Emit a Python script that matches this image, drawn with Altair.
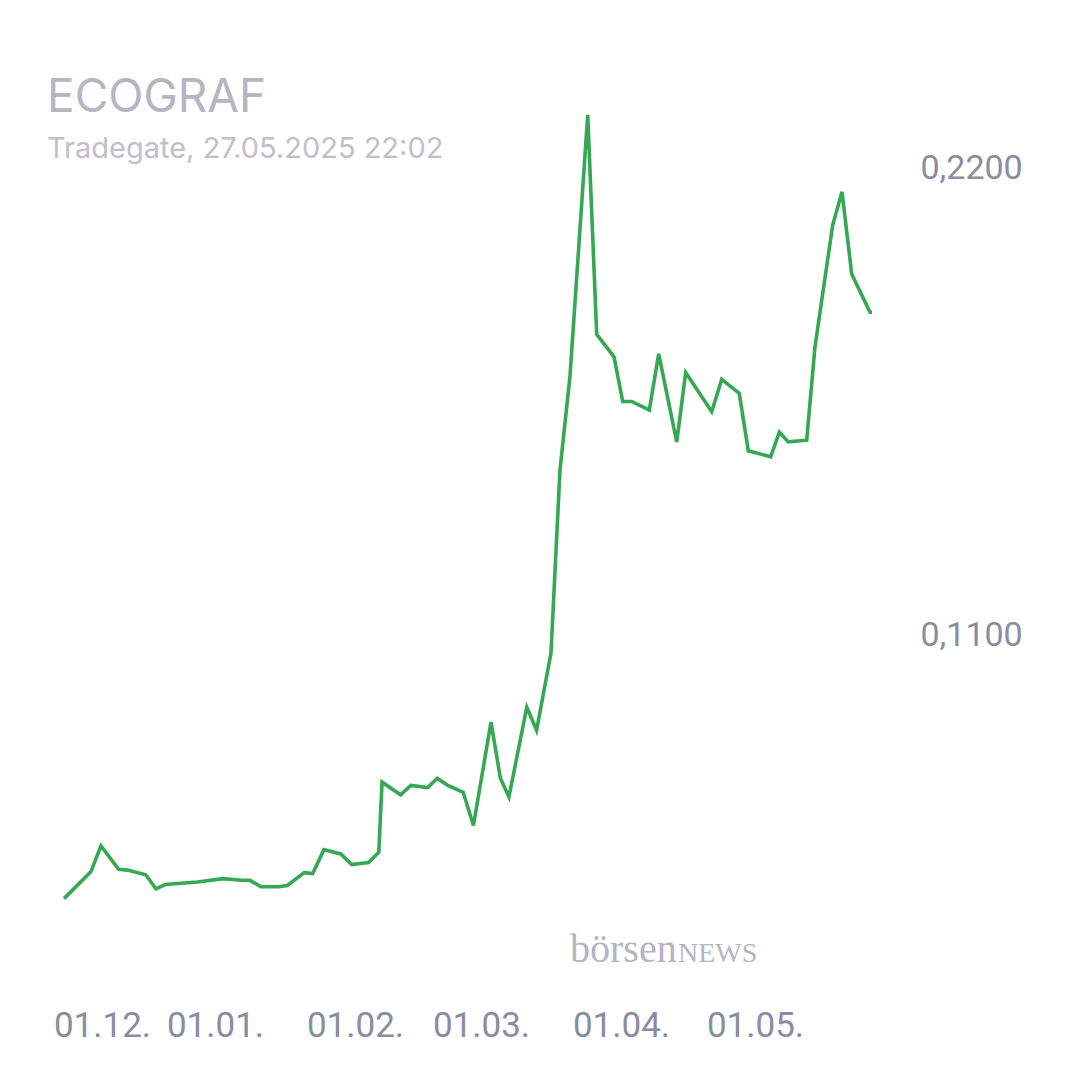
import altair as alt
import pandas as pd

# trading-day index (x) and price in EUR (y)
t_vals = [0.0, 4.15, 5.72, 8.45, 9.81, 12.65, 14.22, 15.67, 20.65, 24.58,
          27.47, 28.77, 30.46, 33.23, 34.55, 37.16, 38.48, 40.21, 42.82, 44.51,
          47.12, 48.70, 49.20, 52.07, 53.65, 56.27, 57.74, 59.30, 61.76, 63.34,
          66.06, 67.51, 68.83, 71.60, 73.11, 75.34, 76.73, 78.28, 81.02, 82.41,
          85.09, 86.43, 87.82, 90.55, 92.00, 94.79, 96.18, 100.2, 101.75, 104.47,
          105.86, 109.33, 110.66, 112.05, 114.90, 116.18, 118.92, 120.36, 121.86, 124.69,
          125.0]
prices = [0.0482, 0.0545, 0.0606, 0.0551, 0.0549, 0.0538, 0.0505, 0.0515, 0.0521, 0.0529,
          0.0525, 0.0525, 0.0510, 0.0510, 0.0513, 0.0543, 0.0541, 0.0597, 0.0587, 0.0562,
          0.0567, 0.0591, 0.0756, 0.0726, 0.0748, 0.0743, 0.0765, 0.0749, 0.0732, 0.0654,
          0.0897, 0.0765, 0.0721, 0.0932, 0.0878, 0.1060, 0.1490, 0.1711, 0.2325, 0.1809,
          0.1756, 0.1651, 0.1651, 0.1631, 0.1763, 0.1556, 0.1719, 0.1627, 0.1703, 0.1670,
          0.1535, 0.1521, 0.1579, 0.1556, 0.1560, 0.1780, 0.2066, 0.2144, 0.1951, 0.1861,
          0.1861]

tick_vals = [5.88, 23.36, 45.02, 64.51, 86.17, 106.9]
tick_labels = ["01.12.", "01.01.", "01.02.", "01.03.", "01.04.", "01.05."]
y_ticks = [0.11, 0.22]

title_text = "ECOGRAF"
subtitle_text = "Tradegate, 27.05.2025 22:02"
wm_a = "börsen"
wm_b = "NEWS"

df = pd.DataFrame({"t": t_vals, "price": prices})

label_expr = ("[" + ",".join(f"'{l}'" for l in tick_labels) + "][indexof(["
              + ",".join(str(v) for v in tick_vals) + "], datum.value)]")

AXIS_COLOR = "#8a8ca0"

line = alt.Chart(df).mark_line(color="#34a853", strokeWidth=3.6).encode(
    x=alt.X("t:Q",
            scale=alt.Scale(domain=[0, 125], nice=False, zero=False),
            axis=alt.Axis(values=tick_vals, labelExpr=label_expr, title=None,
                          grid=False, domain=False, ticks=False,
                          labelFont="Roboto", labelFontSize=35,
                          labelColor=AXIS_COLOR, labelPadding=32,
                          labelAlign="center", labelFlush=False,
                          labelOverlap=False)),
    y=alt.Y("price:Q",
            scale=alt.Scale(domain=[0.03, 0.24], nice=False, zero=False),
            axis=alt.Axis(orient="right", values=y_ticks,
                          labelExpr="replace(format(datum.value, '.4f'), '.', ',')",
                          title=None, grid=False, domain=False, ticks=False,
                          labelFont="Roboto", labelFontSize=34,
                          labelColor=AXIS_COLOR, labelPadding=48,
                          labelAlign="left", labelBaseline="middle",
                          labelOverlap=False)),
)

def text_layer(txt, x, y, size, color, font, weight="normal"):
    return alt.Chart(pd.DataFrame({"label": [txt]})).mark_text(
        align="left", baseline="alphabetic", fontSize=size, color=color,
        font=font, fontWeight=weight
    ).encode(text="label:N", x=alt.value(x), y=alt.value(y))

title_l = text_layer(title_text, -17, 29, 46, "#b6b6c3", "Inter")
sub_l = text_layer(subtitle_text, -17, 75, 29, "#c0c0ca", "Inter")
wm1 = text_layer(wm_a, 506, 879, 40, "#b4b4c4", "Liberation Serif")
wm2 = text_layer(wm_b, 614, 879, 28, "#b4b4c4", "Liberation Serif")

chart = alt.layer(line, title_l, sub_l, wm1, wm2).properties(
    width=808, height=893,
    padding={"left": 56, "top": 75, "right": 200, "bottom": 96},
    autosize=alt.AutoSizeParams(type="none"),
).configure_view(stroke=None)

chart.save("out.html", embed_options={"renderer": "svg", "actions": False})
